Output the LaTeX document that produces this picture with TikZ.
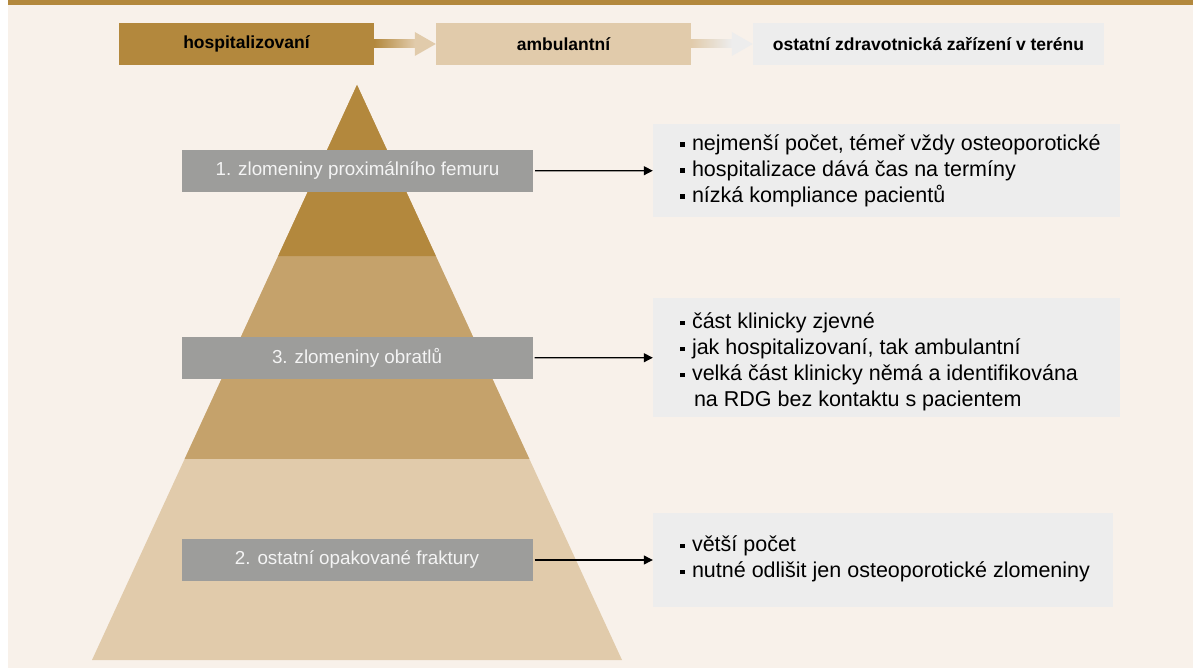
\documentclass[tikz,border=0pt]{standalone}
\usepackage{fontspec}
\setmainfont{Liberation Sans}
\usetikzlibrary{arrows.meta,calc}

\definecolor{goldc}{HTML}{B3883D}
\definecolor{midc}{HTML}{C5A26B}
\definecolor{tanc}{HTML}{E1CBAB}
\definecolor{grayc}{HTML}{9D9D9B}
\definecolor{infoc}{HTML}{EDEDED}
\definecolor{bgc}{HTML}{F8F1EA}
\definecolor{labtext}{HTML}{F4F4F4}

\newcommand{\bul}{\rule[3.5pt]{4.5pt}{4.5pt}\hspace{7.5pt}}

\begin{document}
\begin{tikzpicture}[
  x=1pt, y=-1pt,
  hbox/.style={rectangle,inner sep=0pt,minimum height=42pt,font=\fontsize{17.5}{20}\selectfont\bfseries},
  lbox/.style={rectangle,fill=grayc,inner sep=0pt,minimum width=351pt,minimum height=42pt,
    text=labtext,font=\fontsize{18.8}{22}\selectfont},
  ibox/.style={rectangle,fill=infoc,inner sep=0pt},
  itext/.style={anchor=west,align=left,inner sep=0pt,font=\fontsize{21.5}{26}\selectfont},
  link/.style={-{Triangle[length=9pt,width=9pt]},line width=1.2pt,shorten <=2pt}
]
  \useasboundingbox (0,0) rectangle (1193,668);
  % background
  \fill[white] (0,0) rectangle (1193,668);
  \fill[bgc] (8,0) rectangle (1193,668);
  \fill[goldc] (8,0) rectangle (1193,5);

  % header
  \node[hbox,fill=goldc,minimum width=255pt] (hosp) at (246.5,44) {hospitalizovaní};
  \node[hbox,fill=tanc,minimum width=255pt] (amb) at (563.5,44) {ambulantní};
  \node[hbox,fill=infoc,minimum width=351pt] (field) at (928.5,44) {ostatní zdravotnická zařízení v terénu};

  % header arrows
  \shade[left color=goldc,right color=tanc] ([yshift=-4]hosp.east) rectangle ([xshift=-21,yshift=4]amb.west);
  \fill[tanc] ([xshift=-21,yshift=12]amb.west) -- (amb.west) -- ([xshift=-21,yshift=-12]amb.west) -- cycle;
  \shade[left color=tanc,right color=infoc] ([yshift=-4]amb.east) rectangle ([xshift=-21,yshift=4]field.west);
  \fill[infoc] ([xshift=-21,yshift=12]field.west) -- (field.west) -- ([xshift=-21,yshift=-12]field.west) -- cycle;

  % pyramid
  \coordinate (apex) at (357,85);
  \coordinate (bl) at (92,660);
  \coordinate (br) at (622,660);
  \fill[tanc] (apex) -- (bl) -- (br) -- cycle;
  \fill[midc] (apex) -- ($(apex)!0.6504!(bl)$) -- ($(apex)!0.6504!(br)$) -- cycle;
  \fill[goldc] (apex) -- ($(apex)!0.2974!(bl)$) -- ($(apex)!0.2974!(br)$) -- cycle;

  % levels
  \node[lbox] (lab1) at (357.5,171) {1. zlomeniny proximálního femuru};
  \node[lbox] (lab3) at (357,358) {3. zlomeniny obratlů};
  \node[lbox] (lab2) at (357,560) {2. ostatní opakované fraktury};

  % info boxes
  \node[ibox,minimum width=467pt,minimum height=93pt] (info1) at (886.5,170.5) {};
  \node[ibox,minimum width=467pt,minimum height=119pt] (info3) at (886.5,357.5) {};
  \node[ibox,minimum width=460pt,minimum height=94pt] (info2) at (883,560) {};

  \node[itext] (txt1) at ([xshift=27]info1.west) {\bul nejmenší počet, témeř vždy osteoporotické\\
    \bul hospitalizace dává čas na termíny\\
    \bul nízká kompliance pacientů};
  \node[itext] (txt3) at ([xshift=27,yshift=-4.5]info3.west) {\bul část klinicky zjevné\\
    \bul jak hospitalizovaní, tak ambulantní\\
    \bul velká část klinicky němá a identifikována\\
    \hspace*{14pt}na RDG bez kontaktu s pacientem};
  \node[itext] (txt2) at ([xshift=27,yshift=1]info2.west) {\bul větší počet\\
    \bul nutné odlišit jen osteoporotické zlomeniny};

  % links
  \draw[link] (lab1) -- (info1);
  \draw[link] (lab3) -- (info3);
  \draw[link] (lab2) -- (info2);
\end{tikzpicture}
\end{document}
